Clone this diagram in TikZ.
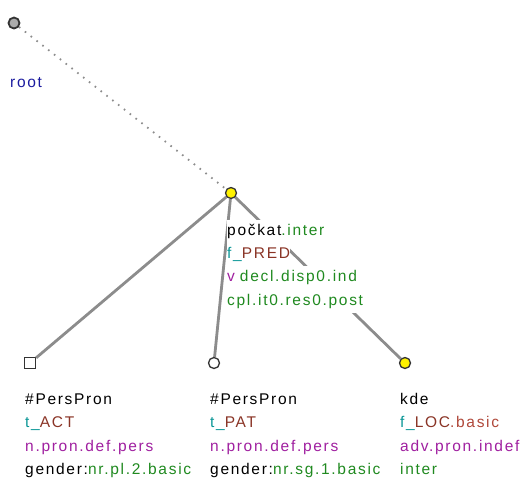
\documentclass[tikz,border=0pt]{standalone}
\usepackage{fontspec}
\setmainfont{Liberation Sans}[LetterSpace=11]
\usepackage{xcolor}
\usepackage{tikz}
\usetikzlibrary{positioning}
\definecolor{treeblue}{HTML}{1C1CA0}
\definecolor{treegreen}{HTML}{208A20}
\definecolor{treeteal}{HTML}{0A9696}
\definecolor{treebrown}{HTML}{8A3426}
\definecolor{treerust}{HTML}{B0483A}
\definecolor{treepurple}{HTML}{A020A0}
\definecolor{treeedge}{HTML}{8C8C8C}
\definecolor{treeline}{HTML}{333333}
\newcommand{\tgrn}[1]{\textcolor{treegreen}{#1}}
\newcommand{\tfun}[2]{\textcolor{treeteal}{#1\_}\textcolor{treebrown}{#2}}
\newcommand{\tpur}[1]{\textcolor{treepurple}{#1}}

\begin{document}
\begin{tikzpicture}[
    x=1pt, y=-1pt,
    every node/.style={font=\fontsize{15.5}{23.5}\selectfont},
    dot/.style={circle, draw=treeline, line width=1.3pt, inner sep=0pt, minimum size=11pt},
    rootdot/.style={dot, fill=gray!65, line width=1.8pt},
    yeldot/.style={dot, fill=yellow},
    whitedot/.style={dot, fill=white},
    sqdot/.style={rectangle, draw=treeline, line width=1.3pt, inner sep=0pt, minimum size=11pt, fill=white},
    tline/.style={anchor=base west, fill=white, inner sep=0pt, text height=15.5pt, text depth=8pt},
    edge/.style={draw=treeedge, line width=2.8pt},
    rootedge/.style={draw=treeedge, line width=1.8pt, dash pattern=on 1.6pt off 5.8pt}
  ]
    \useasboundingbox (0,0) rectangle (521,480);

    % tree nodes
    \node[rootdot] (root) at (14,23) {};
    \node[yeldot] (pockat) at (231,193) {};
    \node[sqdot] (act) at (30,363) {};
    \node[whitedot] (pat) at (214,363) {};
    \node[yeldot] (kde) at (405,363) {};

    % edges
    \draw[rootedge] (root) -- (pockat);
    \draw[edge] (pockat) -- (act);
    \draw[edge] (pockat) -- (pat);
    \draw[edge] (pockat) -- (kde);

    % labels
    \node[tline, text=treeblue] (rootlab) at (10,87.5) {root};

    \node[tline] (pockat1) at (227,235) {počkat\tgrn{.inter}};
    \node[tline] (pockat2) at (227,258) {\tfun{f}{PRED}};
    \node[tline] (pockat3) at (227,281.5) {\tpur{v}\hspace{5pt}\tgrn{decl.disp0.ind}};
    \node[tline] (pockat4) at (227,305) {\tgrn{cpl.it0.res0.post}};

    \node[tline] (act1) at (25,404) {\#PersPron};
    \node[tline] (act2) at (25,427.5) {\tfun{t}{ACT}};
    \node[tline] (act3) at (25,451) {\tpur{n.pron.def.pers}};
    \node[tline] (act4) at (25,474.5) {gender:\tgrn{nr.pl.2.basic}};

    \node[tline] (pat1) at (210,404) {\#PersPron};
    \node[tline] (pat2) at (210,427.5) {\tfun{t}{PAT}};
    \node[tline] (pat3) at (210,451) {\tpur{n.pron.def.pers}};
    \node[tline] (pat4) at (210,474.5) {gender:\tgrn{nr.sg.1.basic}};

    \node[tline] (kde1) at (400,404) {kde};
    \node[tline] (kde2) at (400,427.5) {\tfun{f}{LOC}\textcolor{treerust}{.basic}};
    \node[tline] (kde3) at (400,451) {\tpur{adv.pron.indef}};
    \node[tline] (kde4) at (400,474.5) {\tgrn{inter}};
  \end{tikzpicture}
\end{document}
